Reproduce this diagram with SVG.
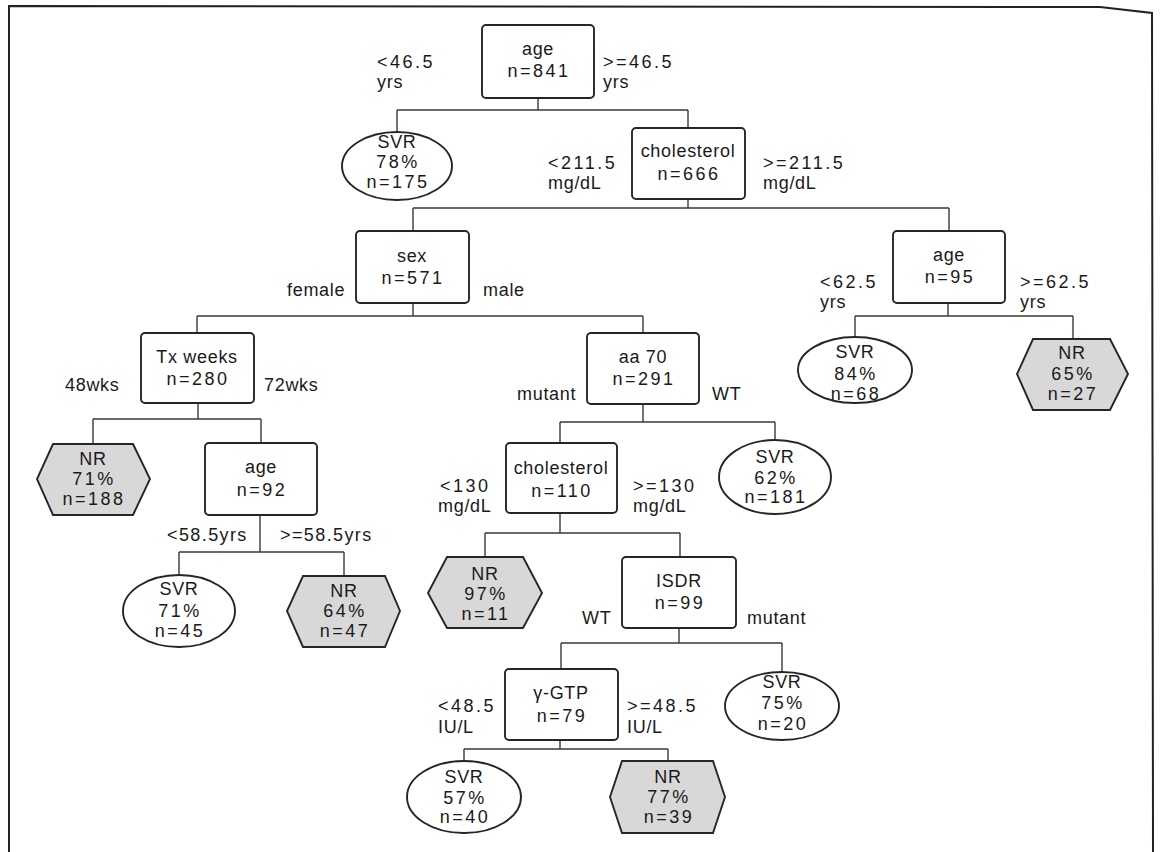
<svg xmlns="http://www.w3.org/2000/svg" width="1161" height="852" viewBox="0 0 1161 852">
<style>
text{font-family:"Liberation Sans",Arial,sans-serif;font-size:18px;fill:#1a1a1a}
.c{text-anchor:middle}
.w{letter-spacing:0.7px}
.n{letter-spacing:2.5px}
.m{letter-spacing:1.4px}
.box{fill:#fff;stroke:#262626;stroke-width:1.9}
.ell{fill:#fff;stroke:#262626;stroke-width:1.9}
.hex{fill:#d8d8d8;stroke:#262626;stroke-width:1.9}
.conn{fill:none;stroke:#3a3a3a;stroke-width:1.4}
.frame{fill:none;stroke:#222;stroke-width:2}
</style>
<rect width="1161" height="852" fill="#fff"/>
<path class="frame" d="M9,852 L9,6 L1100,7 L1152,13 L1153,852"/>
<g id="connectors">
<path class="conn" d="M538,98 V110 M397,110 H688 M397,110 V132 M688,110 V128"/>
<path class="conn" d="M688,199 V208 M413,208 H949 M413,208 V231 M949,208 V231"/>
<path class="conn" d="M413,303 V316 M197,316 H643 M197,316 V333 M643,316 V333"/>
<path class="conn" d="M948,303 V316 M855,316 H1073 M855,316 V337 M1073,316 V339"/>
<path class="conn" d="M198,403 V419 M93,419 H261 M93,419 V444 M261,419 V443"/>
<path class="conn" d="M260,515 V552 M179,552 H344 M179,552 V575 M344,552 V576"/>
<path class="conn" d="M643,404 V422 M560,422 H775 M560,422 V443 M775,422 V440"/>
<path class="conn" d="M560,513 V533 M485,533 H680 M485,533 V557 M680,533 V557"/>
<path class="conn" d="M679,628 V643 M561,643 H782 M561,643 V669 M782,643 V673"/>
<path class="conn" d="M560,740 V749 M464,749 H668 M464,749 V762 M668,749 V761"/>
</g>
<g id="n-age841">
<rect class="box" x="482" y="25" width="112" height="73" rx="4"/>
<text class="c w" x="538" y="55">age</text>
<text class="c n" x="539" y="77">n=841</text>
<text class="n" x="377" y="68">&lt;46.5</text>
<text class="w" x="377" y="88">yrs</text>
<text class="n" x="603" y="68">&gt;=46.5</text>
<text class="w" x="603" y="88">yrs</text>
</g>
<g id="n-svr78">
<ellipse class="ell" cx="397" cy="166" rx="55" ry="34"/>
<text class="c w" x="397" y="148">SVR</text>
<text class="c n" x="398" y="168">78%</text>
<text class="c n" x="398" y="188">n=175</text>
</g>
<g id="n-chol666">
<rect class="box" x="632" y="128" width="113" height="71" rx="4"/>
<text class="c w" x="688" y="157">cholesterol</text>
<text class="c n" x="689" y="180">n=666</text>
<text class="n" x="548" y="169">&lt;211.5</text>
<text class="w" x="548" y="189">mg/dL</text>
<text class="n" x="763" y="169">&gt;=211.5</text>
<text class="w" x="763" y="189">mg/dL</text>
</g>
<g id="n-sex571">
<rect class="box" x="356" y="231" width="113" height="72" rx="4"/>
<text class="c w" x="412" y="262">sex</text>
<text class="c n" x="413" y="284">n=571</text>
<text class="w" x="287" y="296">female</text>
<text class="w" x="483" y="296">male</text>
</g>
<g id="n-age95">
<rect class="box" x="893" y="231" width="112" height="72" rx="4"/>
<text class="c w" x="949" y="261">age</text>
<text class="c n" x="950" y="283">n=95</text>
<text class="n" x="820" y="288">&lt;62.5</text>
<text class="w" x="820" y="308">yrs</text>
<text class="n" x="1020" y="288">&gt;=62.5</text>
<text class="w" x="1020" y="308">yrs</text>
</g>
<g id="n-svr84">
<ellipse class="ell" cx="855" cy="370" rx="57" ry="33"/>
<text class="c w" x="855" y="358">SVR</text>
<text class="c n" x="856" y="380">84%</text>
<text class="c n" x="856" y="400">n=68</text>
</g>
<g id="n-nr65">
<polygon class="hex" points="1033,339 1110,339 1128,374 1110,410 1033,410 1017,374"/>
<text class="c w" x="1072" y="359">NR</text>
<text class="c n" x="1073" y="380">65%</text>
<text class="c n" x="1073" y="400">n=27</text>
</g>
<g id="n-tx280">
<rect class="box" x="141" y="333" width="113" height="70" rx="4"/>
<text class="c w" x="197" y="363">Tx weeks</text>
<text class="c n" x="198" y="385">n=280</text>
<text class="w" x="65" y="391">48wks</text>
<text class="w" x="264" y="391">72wks</text>
</g>
<g id="n-aa70">
<rect class="box" x="587" y="333" width="112" height="71" rx="4"/>
<text class="c w" x="643" y="363">aa 70</text>
<text class="c n" x="644" y="385">n=291</text>
<text class="w" x="517" y="400">mutant</text>
<text class="w" x="712" y="400">WT</text>
</g>
<g id="n-nr71">
<polygon class="hex" points="53,444 133,444 150,479 133,515 53,515 37,479"/>
<text class="c w" x="93" y="465">NR</text>
<text class="c n" x="94" y="485">71%</text>
<text class="c n" x="94" y="505">n=188</text>
</g>
<g id="n-age92">
<rect class="box" x="205" y="443" width="112" height="72" rx="4"/>
<text class="c w" x="261" y="473">age</text>
<text class="c n" x="262" y="496">n=92</text>
<text class="m" x="167" y="541">&lt;58.5yrs</text>
<text class="m" x="280" y="541">&gt;=58.5yrs</text>
</g>
<g id="n-svr71">
<ellipse class="ell" cx="179" cy="611" rx="56" ry="36"/>
<text class="c w" x="179" y="595">SVR</text>
<text class="c n" x="180" y="617">71%</text>
<text class="c n" x="180" y="637">n=45</text>
</g>
<g id="n-nr64">
<polygon class="hex" points="303,576 385,576 400,611 385,647 303,647 287,611"/>
<text class="c w" x="344" y="597">NR</text>
<text class="c n" x="345" y="617">64%</text>
<text class="c n" x="345" y="637">n=47</text>
</g>
<g id="n-chol110">
<rect class="box" x="506" y="443" width="111" height="70" rx="4"/>
<text class="c w" x="561" y="474">cholesterol</text>
<text class="c n" x="562" y="497">n=110</text>
<text class="n" x="440" y="492">&lt;130</text>
<text class="w" x="438" y="512">mg/dL</text>
<text class="n" x="633" y="492">&gt;=130</text>
<text class="w" x="633" y="512">mg/dL</text>
</g>
<g id="n-svr62">
<ellipse class="ell" cx="775" cy="477" rx="56" ry="37"/>
<text class="c w" x="775" y="463">SVR</text>
<text class="c n" x="776" y="484">62%</text>
<text class="c n" x="776" y="503">n=181</text>
</g>
<g id="n-nr97">
<polygon class="hex" points="447,557 523,557 542,593 523,628 447,628 428,593"/>
<text class="c w" x="485" y="580">NR</text>
<text class="c n" x="486" y="600">97%</text>
<text class="c n" x="486" y="620">n=11</text>
</g>
<g id="n-isdr99">
<rect class="box" x="622" y="557" width="114" height="71" rx="4"/>
<text class="c w" x="679" y="587">ISDR</text>
<text class="c n" x="680" y="609">n=99</text>
<text class="w" x="582" y="624">WT</text>
<text class="w" x="747" y="624">mutant</text>
</g>
<g id="n-svr75">
<ellipse class="ell" cx="782" cy="706" rx="57" ry="34"/>
<text class="c w" x="782" y="688">SVR</text>
<text class="c n" x="783" y="709">75%</text>
<text class="c n" x="783" y="730">n=20</text>
</g>
<g id="n-ggtp79">
<rect class="box" x="505" y="669" width="113" height="71" rx="4"/>
<text class="c w" x="561" y="699">γ-GTP</text>
<text class="c n" x="562" y="722">n=79</text>
<text class="n" x="438" y="712">&lt;48.5</text>
<text class="w" x="438" y="733">IU/L</text>
<text class="n" x="627" y="712">&gt;=48.5</text>
<text class="w" x="627" y="733">IU/L</text>
</g>
<g id="n-svr57">
<ellipse class="ell" cx="464" cy="797" rx="57" ry="36"/>
<text class="c w" x="464" y="783">SVR</text>
<text class="c n" x="465" y="804">57%</text>
<text class="c n" x="465" y="823">n=40</text>
</g>
<g id="n-nr77">
<polygon class="hex" points="622,761 713,761 725,797 713,833 622,833 610,797"/>
<text class="c w" x="668" y="783">NR</text>
<text class="c n" x="669" y="803">77%</text>
<text class="c n" x="669" y="823">n=39</text>
</g>
</svg>
